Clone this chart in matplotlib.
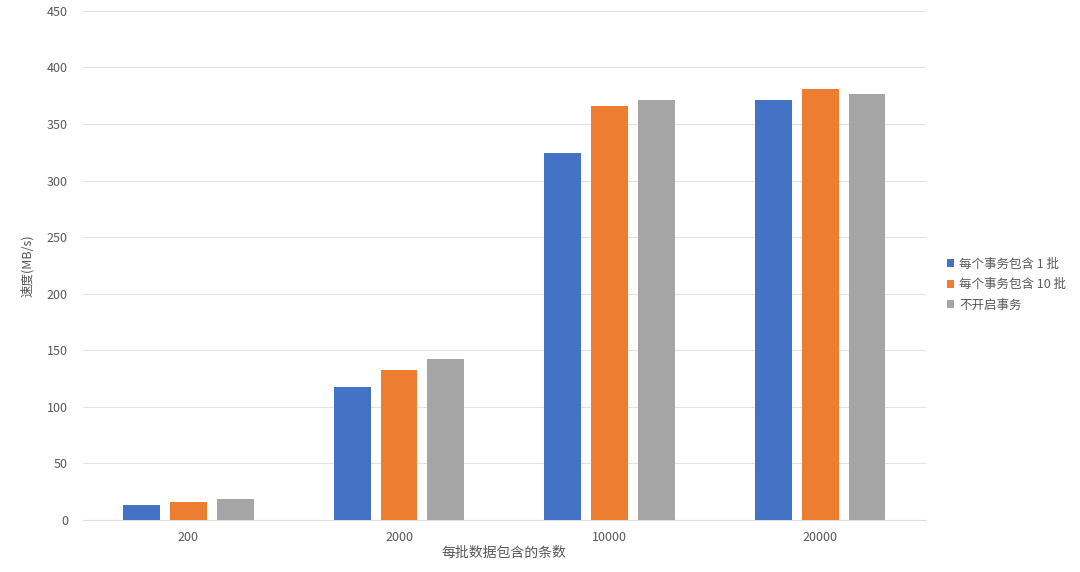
import matplotlib
matplotlib.use('Agg')
import matplotlib.pyplot as plt
import numpy as np

plt.rcParams['font.family'] = ['Noto Sans CJK SC', 'DejaVu Sans']

categories = ['200', '2000', '10000', '20000']
series_names = ['每个事务包含 1 批', '每个事务包含 10 批', '不开启事务']
tx_1 = [13.3, 117.5, 324.5, 371]
tx_10 = [16, 132.5, 366, 381]
no_tx = [18.5, 142, 371, 376.5]
colors = ['#4472C4', '#ED7D31', '#A5A5A5']

fig = plt.figure(figsize=(10.8, 5.72), dpi=100)
ax = fig.add_axes([0.077, 0.091, 0.78, 0.89])

x = np.arange(len(categories))
width = 0.175
step = 0.222
for i, (vals, name) in enumerate(zip([tx_1, tx_10, no_tx], series_names)):
    ax.bar(x + (i - 1) * step, vals, width, color=colors[i], label=name, zorder=3)

ax.set_xlim(-0.5, len(categories) - 0.5)
ax.set_ylim(0, 450)
ax.set_yticks(np.arange(0, 451, 50))
ax.set_xticks(x)
ax.set_xticklabels(categories)
ax.grid(axis='y', color='#e3e3e3', linewidth=0.8, zorder=0)
for s in ['top', 'right', 'left']:
    ax.spines[s].set_visible(False)
ax.spines['bottom'].set_color('#e0e0e0')
ax.tick_params(axis='both', length=0, colors='#595959', labelsize=9, pad=8)
ax.tick_params(axis='y', pad=11)

ax.set_ylabel('速度(MB/s)', fontsize=9, color='#595959', labelpad=9)
ax.set_xlabel('每批数据包含的条数', fontsize=10, color='#595959', labelpad=1)

leg = ax.legend(loc='center left', bbox_to_anchor=(1.012, 0.462), frameon=False,
                fontsize=9, handlelength=0.6, handleheight=0.6, handletextpad=0.4,
                labelspacing=0.6, labelcolor='#595959')

fig.savefig('out.png', dpi=100)
